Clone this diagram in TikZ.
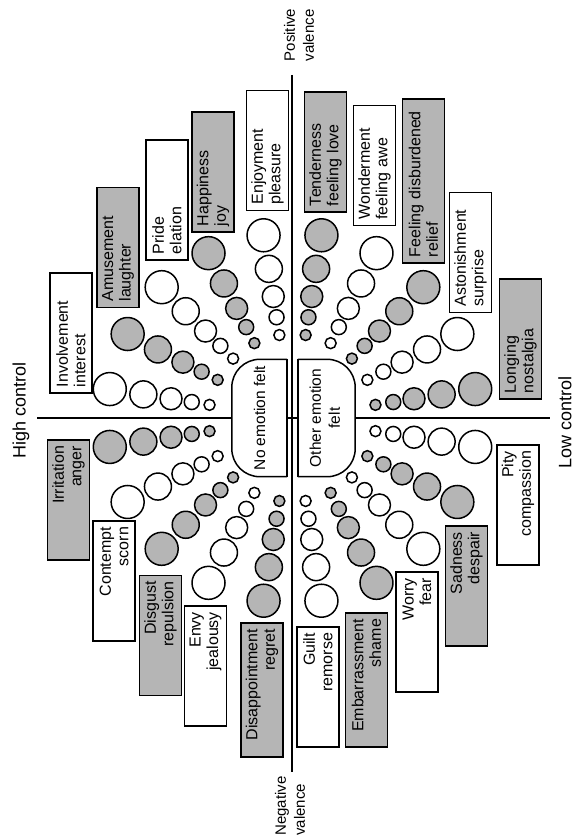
\documentclass[tikz,border=0pt]{standalone}
\usepackage{fontspec}
\setmainfont{Liberation Sans}
\usepackage{tikz}

\definecolor{grisroue}{gray}{0.71}

\begin{document}
\begin{tikzpicture}[x=1pt,y=-1pt]
  \tikzstyle{etiq}=[draw=black, line width=1.5pt, rotate=90, minimum height=42pt,
                    inner xsep=6pt, inner ysep=2pt, text width=108pt,
                    font=\fontsize{16}{17.5}\selectfont]
  \tikzstyle{haut}=[etiq, align=left]
  \tikzstyle{bas}=[etiq, align=right]
  \tikzstyle{rond}=[draw=black, line width=1.5pt]
  \tikzstyle{axe}=[draw=black, line width=1.5pt]
  \tikzstyle{milieu}=[minimum width=55pt, minimum height=117pt, inner sep=0pt,
                      font=\fontsize{15.5}{19}\selectfont]
  \useasboundingbox (0,0) rectangle (574,840);

  % axes
  \coordinate (centre) at (292.5,418);
  \coordinate (pos) at (292,75);
  \coordinate (neg) at (292,772);
  \coordinate (hc) at (37,418);
  \coordinate (lc) at (550,418);

  \node[milieu] (nul) at (259.5,418) {\rotatebox{90}{No emotion felt}};
  \node[milieu, minimum width=57pt] (autre) at (326.5,418)
    {\rotatebox{90}{\begin{tabular}{@{}c@{}}Other emotion\\felt\end{tabular}}};
  \draw[axe, rounded corners=28pt] (nul.south east) -- (nul.south west)
    -- (nul.north west) -- (nul.north east);
  \draw[axe] (nul.north east) -- (nul.south east);
  \draw[axe, rounded corners=28pt] (autre.south west) -- (autre.south east)
    -- (autre.north east) -- (autre.north west);
  \draw[axe] (autre.north west) -- (autre.south west);

  \draw[axe] (pos) -- (neg);
  \draw[axe] (hc) -- (nul.west);
  \draw[axe] (nul.east) -- (autre.west);
  \draw[axe] (autre.east) -- (lc);

  \node[rotate=90, font=\fontsize{18}{20}\selectfont] (hautc) at (21,410) {High control};
  \node[rotate=90, font=\fontsize{18}{20}\selectfont] (basc) at (565,422) {Low control};
  \node[rotate=90, align=left, font=\fontsize{15}{19}\selectfont] (posv) at (299,35) {Positive\\valence};
  \node[rotate=90, align=left, font=\fontsize{15}{19}\selectfont] (negv) at (290,806) {Negative\\valence};

  % les ronds
  \foreach \k in {0,...,19}{
    \pgfmathsetmacro{\ang}{-9-18*\k}
    \ifodd\k \def\teinte{white}\else\def\teinte{grisroue}\fi
    \foreach \d/\r in {84/5.5,102/7.5,123/11,151/13.5,185/16.5}
      \draw[rond, fill=\teinte] (centre) ++(\ang:\d) circle[radius=\r];
  }

  % valence positive
  \node[haut, fill=white] (inv) at (71,333) {Involvement\\interest};
  \node[haut, fill=grisroue] (amu) at (118,247.5) {Amusement\\laughter};
  \node[haut, fill=white] (fie) at (167,200) {Pride\\elation};
  \node[haut, fill=grisroue] (bon) at (213,172) {Happiness\\joy};
  \node[haut, fill=white] (plai) at (267.5,150.5) {Enjoyment\\pleasure};
  \node[haut, fill=grisroue] (tend) at (325.5,152) {Tenderness\\feeling love};
  \node[haut, fill=white] (emer) at (374.5,165.5) {Wonderment\\feeling awe};
  \node[haut, fill=grisroue, text width=152pt] (soul) at (423.5,181) {Feeling disburdened\\relief};
  \node[haut, fill=white] (eton) at (470.5,252.5) {Astonishment\\surprise};
  \node[haut, fill=grisroue] (nost) at (520.5,339) {Longing\\nostalgia};

  % valence negative
  \node[bas, fill=grisroue] (irr) at (68.5,500) {Irritation\\anger};
  \node[bas, fill=white] (mep) at (114,581) {Contempt\\scorn};
  \node[bas, fill=grisroue] (deg) at (160.5,635.5) {Disgust\\repulsion};
  \node[bas, fill=white] (env) at (205.5,666) {Envy\\jealousy};
  \node[bas, fill=grisroue, text width=122pt] (dec) at (262,690) {Disappointment\\regret};
  \node[bas, fill=white] (culp) at (318,687) {Guilt\\remorse};
  \node[bas, fill=grisroue, text width=122pt] (hon) at (366.5,680) {Embarrassment\\shame};
  \node[bas, fill=white] (peur) at (417,632) {Worry\\fear};
  \node[bas, fill=grisroue] (trist) at (466.5,586) {Sadness\\despair};
  \node[bas, fill=white] (pit) at (518,505) {Pity\\compassion};
\end{tikzpicture}
\end{document}
